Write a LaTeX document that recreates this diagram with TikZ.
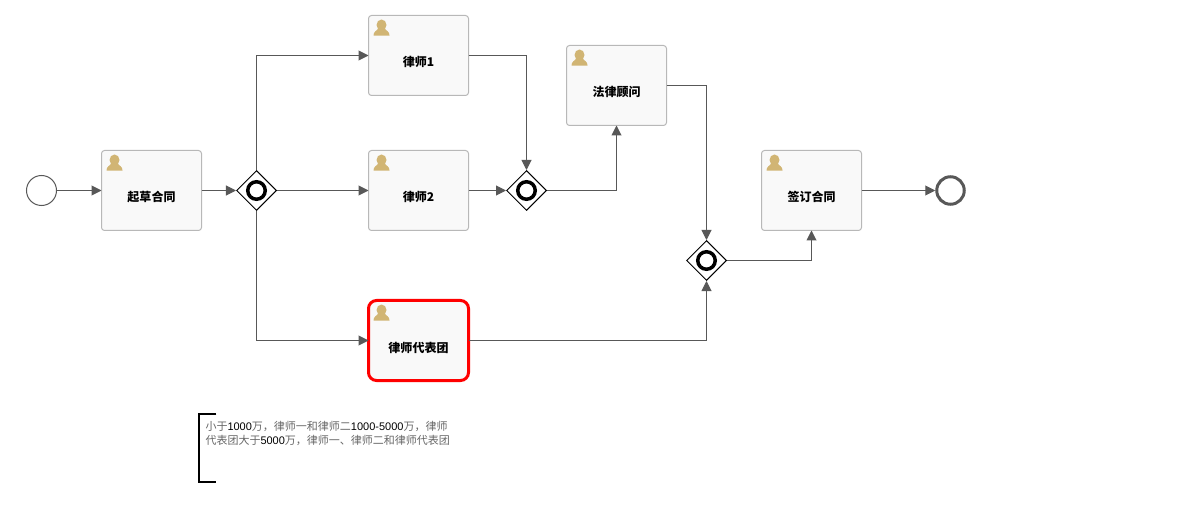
\documentclass[tikz,border=0pt]{standalone}
\usepackage{fontspec}
\usepackage{xcolor}
\usepackage{tikz}
\usetikzlibrary{shapes.geometric, arrows.meta, positioning}
\setmainfont{Liberation Sans}
\newfontfamily\cjk{Noto Sans CJK SC}
\definecolor{flowgray}{HTML}{585858}
\definecolor{taskfill}{HTML}{F9F9F9}
\definecolor{taskline}{HTML}{B8B8B8}
\definecolor{iconcolor}{HTML}{D1B574}
\definecolor{notegray}{HTML}{666666}
\newcommand{\notedigits}[1]{\textcolor{black}{#1}}

\begin{document}
\begin{tikzpicture}[
    on grid,
    usertask/.style={rectangle, draw=taskline, fill=taskfill, line width=0.02cm, rounded corners=0.06cm,
        minimum width=2cm, minimum height=1.6cm, inner sep=0pt, outer sep=0pt, align=center,
        text height=0.58cm, text depth=0.12cm, font=\cjk\fontsize{6.83pt}{8pt}\selectfont\bfseries},
    usericon/.pic={
        \fill[iconcolor, x=0.02cm, y=-0.02cm]
            (13,9.5) circle [x radius=5, y radius=5.5]
            (5,20) .. controls (5,16) and (8,15.5) .. (10,13) -- (16,13) .. controls (18,15.5) and (21,16) .. (21,20) -- cycle;
    },
    gateway/.style={diamond, draw=black, fill=white, line width=0.02cm, aspect=1, minimum size=0.8cm, inner sep=0pt,
        path picture={
            \draw[black, line width=0.07cm] (path picture bounding box.center) circle (0.175cm);
        }},
    startevent/.style={circle, draw=flowgray, fill=white, line width=0.02cm, minimum size=0.6cm, inner sep=0pt},
    endevent/.style={circle, draw=flowgray, fill=white, line width=0.06cm, minimum size=0.55cm, inner sep=0pt},
    arrow/.style={-{Triangle[length=0.2cm, width=0.2cm]}, flowgray, line width=0.02cm},
    notemark/.style={minimum width=0.34cm, minimum height=1.36cm, inner sep=0pt},
    notetext/.style={align=left, inner sep=0pt, text=notegray, font=\fontsize{6.26pt}{8pt}\selectfont}
]

\useasboundingbox (0,0) rectangle (23.54,10.24);

% Nodes
\node[startevent] (start) at (0.83,6.43) {};
\node[usertask, right=2.2cm of start] (draft) {起草合同};
\node[gateway, right=2.1cm of draft] (split) {};
\node[usertask, right=3.24cm of split] (lawyertwo) {律师2};
\node[usertask, above=2.7cm of lawyertwo] (lawyerone) {律师1};
\node[usertask, below=3cm of lawyertwo, draw=red, line width=0.06cm, rounded corners=0.16cm] (team) {律师代表团};
\node[gateway, right=2.16cm of lawyertwo] (joinone) {};
\node[usertask, above right=2.1cm and 1.8cm of joinone] (counsel) {法律顾问};
\node[gateway, below right=3.5cm and 1.8cm of counsel] (jointwo) {};
\node[usertask, above right=1.4cm and 2.1cm of jointwo] (sign) {签订合同};
\node[endevent, right=2.78cm of sign] (end) {};

% Icons
\foreach \taskname in {draft, lawyerone, lawyertwo, team, counsel, sign}
    \pic at (\taskname.north west) {usericon};

% Note
\node[notemark] (mark) at (4.15,1.28) {};
\node[notetext, anchor=north west] (note) at ([shift={(0.13cm,-0.14cm)}]mark.north west)
    {{\cjk 小于}\notedigits{1000}{\cjk 万，律师一和律师二}\notedigits{1000-5000}{\cjk 万，律师}\\
     {\cjk 代表团大于}\notedigits{5000}{\cjk 万，律师一、律师二和律师代表团}};
\draw[black, line width=0.04cm] (mark.north east) -- (mark.north west) -- (mark.south west) -- (mark.south east);

% Arrows
\draw[arrow] (start) -- (draft);
\draw[arrow] (draft) -- (split);
\draw[arrow] (split) |- (lawyerone);
\draw[arrow] (split) -- (lawyertwo);
\draw[arrow] (split) |- (team);
\draw[arrow] (lawyerone) -| (joinone);
\draw[arrow] (lawyertwo) -- (joinone);
\draw[arrow] (joinone) -| (counsel);
\draw[arrow] (counsel) -| (jointwo);
\draw[arrow] (team) -| (jointwo);
\draw[arrow] (jointwo) -| (sign);
\draw[arrow] (sign) -- (end);

\end{tikzpicture}
\end{document}
